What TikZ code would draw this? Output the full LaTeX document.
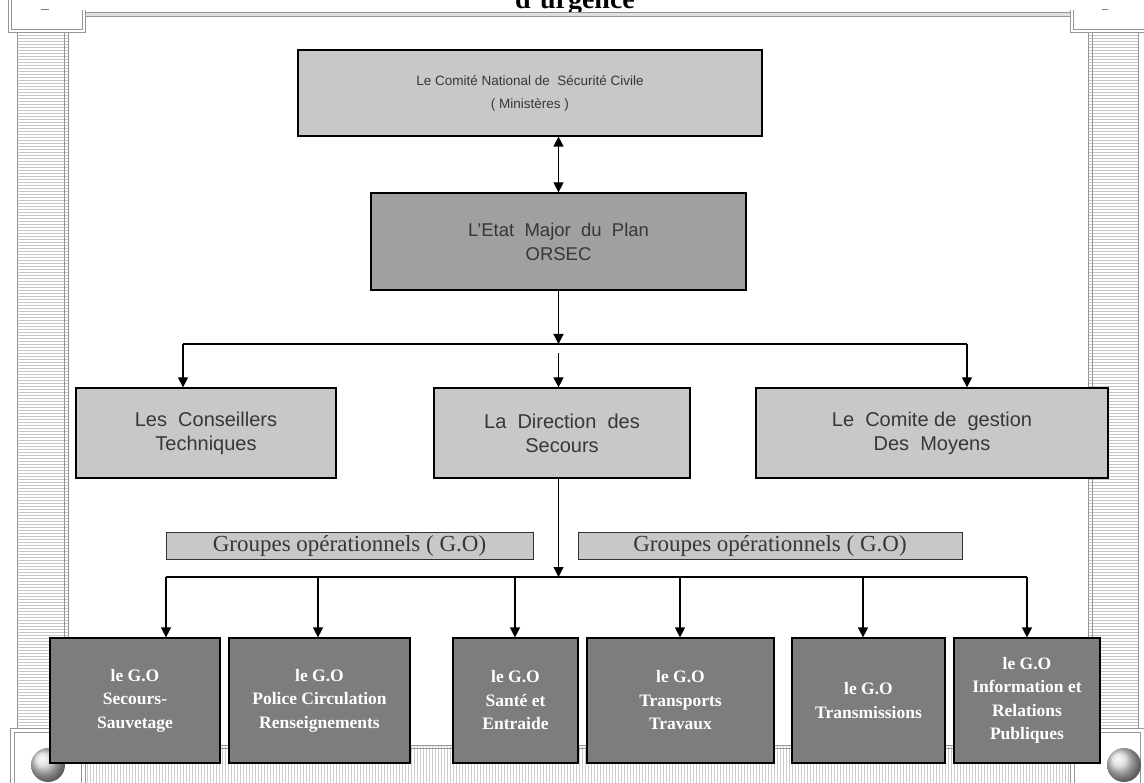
\documentclass[tikz,border=0pt]{standalone}
\usepackage{fontspec}
\setmainfont{Liberation Serif}
\newfontfamily\arialf{Liberation Sans}
\usetikzlibrary{arrows.meta,patterns}
\definecolor{lightg}{RGB}{200,200,200}
\definecolor{midg}{RGB}{160,160,160}
\definecolor{darkg}{RGB}{125,125,125}
\definecolor{txtg}{RGB}{55,55,55}
\definecolor{framec}{RGB}{150,150,150}
\tikzset{
  lbox/.style={draw=black, line width=1.2pt, fill=lightg, align=center, text=txtg, font=\arialf\fontsize{20}{24}\selectfont, inner sep=0pt},
  ebox/.style={lbox, fill=midg},
  dbox/.style={draw=black, line width=1.2pt, fill=darkg, align=center, text=white, font=\bfseries\fontsize{17.5}{23.5}\selectfont, inner sep=0pt},
  gbox/.style={draw=black!80, line width=1pt, fill=lightg, align=center, text=txtg, font=\fontsize{23}{23}\selectfont, inner sep=0pt},
  arr/.style={line width=1.2pt, -{Triangle[width=10pt,length=10pt]}},
  dblarr/.style={line width=1.2pt, {Triangle[width=10pt,length=10pt]}-{Triangle[width=10pt,length=10pt]}},
  ln/.style={line width=1.2pt},
  fr/.style={draw=framec, line width=0.8pt},
}
\begin{document}
\begin{tikzpicture}[x=1pt,y=-1pt]
\useasboundingbox (0,0) rectangle (1144,783);
\clip (0,0) rectangle (1144,783);
% ---------- frame ----------
\fill[white] (0,0) rectangle (1144,783);
\node[font=\bfseries\fontsize{28}{30}\selectfont, anchor=base] (title) at (575,9) {d’urgence};
\draw[fr, fill=gray!25] (85,12) rectangle (1070,16);
% top-left tab
\draw[fr] (8,0) -- (8,32) -- (85,32) -- (85,10);
\draw[fr] (11,0) -- (11,29) -- (82,29) -- (82,10);
\draw[gray, line width=1pt] (41,10) -- (49,10);
% top-right tab
\draw[fr] (1070,10) -- (1070,32) -- (1144,32);
\draw[fr] (1073,10) -- (1073,29) -- (1144,29);
\draw[gray, line width=1pt] (1102,10) -- (1108,10);
% pillars
\draw[fr, pattern=horizontal lines, pattern color=gray!45] (17,32) rectangle (68,728);
\draw[fr] (64,32) -- (64,728);
\draw[fr, pattern=horizontal lines, pattern color=gray!45] (1088,32) rectangle (1138,728);
\draw[fr] (1092,32) -- (1092,728);
% bottom strip
\draw[fr, pattern=vertical lines, pattern color=gray!40] (85,745) rectangle (1070,790);
\draw[fr] (85,748) -- (1070,748);
% bottom corners
\draw[fr, fill=white] (10,728) rectangle (85,790);
\draw[fr] (14,732) rectangle (81,790);
\draw[fr, fill=white] (1070,728) rectangle (1144,790);
\draw[fr] (1074,732) rectangle (1140,790);
\shade[ball color=gray!30] (48,765) circle (17);
\shade[ball color=gray!30] (1124,765) circle (17);
% ---------- boxes ----------
\node[lbox, minimum width=464pt, minimum height=86pt, font=\arialf\fontsize{13.5}{23}\selectfont] (cnsc) at (530,93)
  {Le Comité National de\ \ Sécurité Civile\\( Ministères )};
\node[ebox, minimum width=375pt, minimum height=97pt, font=\arialf\fontsize{18.5}{24}\selectfont] (etat) at (558.5,241.5)
  {L’Etat\ \ Major\ \ du\ \ Plan\\ORSEC};
\node[lbox, minimum width=260pt, minimum height=90pt] (cons) at (206,433)
  {Les\ \ Conseillers\\Techniques};
\node[lbox, minimum width=256pt, minimum height=90pt] (dir) at (562,433)
  {La\ \ Direction\ \ des\\Secours};
\node[lbox, minimum width=352pt, minimum height=90pt] (cgm) at (932,433)
  {Le\ \ Comite\ de\ \ gestion\\Des\ \ Moyens};
\node[gbox, minimum width=367pt, minimum height=26pt] (g1) at (349.5,546) {Groupes opérationnels ( G.O)};
\node[gbox, minimum width=384pt, minimum height=26pt] (g2) at (770,546) {Groupes opérationnels ( G.O)};
\node[dbox, minimum width=170pt, minimum height=125pt] (b1) at (135,700.5) {le G.O\\Secours-\\Sauvetage};
\node[dbox, minimum width=181pt, minimum height=125pt] (b2) at (319.5,700.5) {le G.O\\Police Circulation\\Renseignements};
\node[dbox, minimum width=125pt, minimum height=125pt] (b3) at (515.5,700.5) {le G.O\\Santé et\\Entraide};
\node[dbox, minimum width=187pt, minimum height=125pt] (b4) at (680.5,700.5) {le G.O\\Transports\\Travaux};
\node[dbox, minimum width=153pt, minimum height=125pt] (b5) at (868.5,700.5) {le G.O\\Transmissions};
\node[dbox, minimum width=146pt, minimum height=125pt] (b6) at (1027,700.5) {le G.O\\Information et\\Relations\\Publiques};
% ---------- connectors ----------
\draw[dblarr] (cnsc.south -| etat.north) -- (etat.north);
\coordinate (jm) at (558.5,344);
\coordinate (jl) at (183,344);
\coordinate (jr) at (967,344);
\coordinate (jm2) at (558.5,353);
\draw[arr] (etat.south) -- (jm);
\draw[ln] (jl) -- (jr);
\draw[arr] (jl) -- (jl |- cons.north);
\draw[arr] (jr) -- (jr |- cgm.north);
\draw[arr] (jm2) -- (jm2 |- dir.north);
\coordinate (dm) at (558.5,478);
\coordinate (hm) at (558.5,577);
\coordinate (h1) at (166,577);
\coordinate (h2) at (318,577);
\coordinate (h3) at (515,577);
\coordinate (h4) at (680,577);
\coordinate (h5) at (863,577);
\coordinate (h6) at (1027,577);
\draw[arr] (dm) -- (hm);
\draw[ln] (h1) -- (h6);
\draw[arr] (h1) -- (h1 |- b1.north);
\draw[arr] (h2) -- (h2 |- b2.north);
\draw[arr] (h3) -- (h3 |- b3.north);
\draw[arr] (h4) -- (h4 |- b4.north);
\draw[arr] (h5) -- (h5 |- b5.north);
\draw[arr] (h6) -- (h6 |- b6.north);
\end{tikzpicture}
\end{document}
